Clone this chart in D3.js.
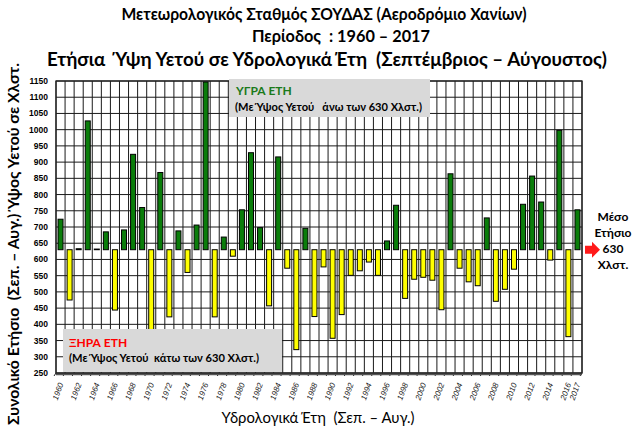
<!DOCTYPE html>
<html><head><meta charset="utf-8">
<script src="https://cdn.jsdelivr.net/npm/d3@7"></script>
<style>
html,body{margin:0;padding:0;background:#fff;}
svg{display:block;}
text{white-space:pre;}
</style></head>
<body>
<svg id="c" width="641" height="430"></svg>
<script>
const years = d3.range(1960, 2018);
const rainfall = [724,475,633,1027,632,685,444,691,924,760,380,868,423,688,560,706,1147,423,669,610,
  753,929,698,457,916,573,322,696,424,577,357,430,551,565,592,551,657,767,480,539,
  545,536,445,864,573,531,519,728,471,508,570,770,857,777,598,998,362,753];
const baseline = 630;
const yTicks = d3.range(250, 1151, 50);
const xTickLabels = ["1960","1962","1964","1966","1968","1970","1972","1974","1976","1978","1980","1982","1984","1986","1988","1990","1992","1994","1996","1998","2000","2002","2004","2006","2008","2010","2012","2014","2016","2017"];

const svg = d3.select("#c");
const L = 56, R = 582, T = 81, B = 373;
const x = d3.scaleBand().domain(years.map(String)).range([L, R]).paddingInner(0).paddingOuter(0);
const y = d3.scaleLinear().domain([250, 1150]).range([B, T]);
const font = "Lato, 'Noto Sans', sans-serif";

// titles
svg.append("text").attr("x", 324).attr("y", 20).attr("text-anchor","middle")
  .attr("font-family", font).attr("font-weight","bold").attr("font-size",17)
  .attr("textLength",405).attr("lengthAdjust","spacingAndGlyphs")
  .text("Μετεωρολογικός Σταθμός ΣΟΥΔΑΣ (Αεροδρόμιο Χανίων)");
svg.append("text").attr("x", 341).attr("y", 42).attr("text-anchor","middle")
  .attr("font-family", font).attr("font-weight","bold").attr("font-size",17)
  .attr("textLength",178).attr("lengthAdjust","spacingAndGlyphs")
  .text("Περίοδος  : 1960 – 2017");
svg.append("text").attr("x", 327).attr("y", 66).attr("text-anchor","middle")
  .attr("font-family", font).attr("font-weight","bold").attr("font-size",19)
  .attr("textLength",560).attr("lengthAdjust","spacingAndGlyphs")
  .text("Ετήσια  Ύψη Υετού σε Υδρολογικά Έτη  (Σεπτέμβριος – Αύγουστος)");

// grid
const g = svg.append("g");
g.selectAll("line.h").data(yTicks).join("line")
  .attr("x1", L).attr("x2", R).attr("y1", d=>y(d)).attr("y2", d=>y(d))
  .attr("stroke","#1a1a1a").attr("stroke-width",1);
const bounds = years.map(d=>x(String(d))).concat([R]);
g.selectAll("line.v").data(bounds).join("line")
  .attr("x1", d=>d).attr("x2", d=>d).attr("y1", T).attr("y2", B)
  .attr("stroke","#1a1a1a").attr("stroke-width",1);
// floor ticks
g.selectAll("line.t").data(bounds).join("line")
  .attr("x1", d=>d).attr("x2", d=>d-2).attr("y1", B).attr("y2", B+3)
  .attr("stroke","#222").attr("stroke-width",1);
g.append("line").attr("x1",L).attr("x2",R).attr("y1",B+1).attr("y2",B+1).attr("stroke","#555").attr("stroke-width",2.5);
g.append("rect").attr("x",L).attr("y",T).attr("width",R-L).attr("height",B-T)
  .attr("fill","none").attr("stroke","#222").attr("stroke-width",1.3);

// bars
const bw = 5;
svg.append("g").selectAll("rect").data(years.map((yr,i)=>({yr, v: rainfall[i]}))).join("rect")
  .attr("x", d => x(String(d.yr)) + x.bandwidth()/2 - bw/2)
  .attr("y", d => Math.min(y(d.v), y(baseline)))
  .attr("width", bw)
  .attr("height", d => Math.abs(y(d.v) - y(baseline)))
  .attr("fill", d => d.v >= baseline ? "#0a7d0a" : "#ffff00")
  .attr("stroke", "#000").attr("stroke-width", 1);

// y axis labels
svg.append("g").selectAll("text").data(yTicks).join("text")
  .attr("x", 48).attr("y", d=>y(d)+3).attr("text-anchor","end")
  .attr("font-family","'Liberation Sans', Arial, sans-serif").attr("font-weight","bold")
  .attr("font-size",8.5).text(d=>d);

// x axis labels
svg.append("g").selectAll("text").data(xTickLabels).join("text")
  .attr("transform", d => `translate(${x(d)+x.bandwidth()/2+3},384) rotate(-70)`)
  .attr("text-anchor","end")
  .attr("font-family","'Liberation Sans', Arial, sans-serif").attr("font-style","italic")
  .attr("font-size",8).attr("fill","#222").text(d=>d);

// axis titles
svg.append("text").attr("transform","translate(19,244) rotate(-90)").attr("text-anchor","middle")
  .attr("font-family", font).attr("font-weight","bold").attr("font-size",15.5)
  .attr("textLength",362).attr("lengthAdjust","spacingAndGlyphs")
  .text("Συνολικό Ετήσιο  (Σεπ. – Αυγ.) Ύψος Υετού σε Χλστ.");
svg.append("text").attr("x", 318).attr("y", 423).attr("text-anchor","middle")
  .attr("font-family", font).attr("font-size",15)
  .attr("textLength",193).attr("lengthAdjust","spacingAndGlyphs")
  .text("Υδρολογικά Έτη  (Σεπ. – Αυγ.)");

// legend boxes
svg.append("rect").attr("x",229).attr("y",79).attr("width",201).attr("height",38).attr("fill","#d9d9d9");
svg.append("text").attr("x",236).attr("y",95).attr("font-family",font).attr("font-weight","bold")
  .attr("font-size",12).attr("fill","#1b7a1b").text("ΥΓΡΑ ΕΤΗ");
svg.append("text").attr("x",235).attr("y",111).attr("font-family",font).attr("font-weight","bold")
  .attr("font-size",11.5).attr("textLength",187).attr("lengthAdjust","spacingAndGlyphs")
  .text("(Με Ύψος Υετού   άνω των 630 Χλστ.)");
svg.append("rect").attr("x",63).attr("y",329).attr("width",219).attr("height",43).attr("fill","#d9d9d9");
svg.append("text").attr("x",69).attr("y",347).attr("font-family",font).attr("font-weight","bold")
  .attr("font-size",12).attr("fill","#ff0000").text("ΞΗΡΑ ΕΤΗ");
svg.append("text").attr("x",69).attr("y",362).attr("font-family",font).attr("font-weight","bold")
  .attr("font-size",11.5).attr("textLength",190).attr("lengthAdjust","spacingAndGlyphs")
  .text("(Με Ύψος Υετού  κάτω των 630 Χλστ.)");

// mean annotation
const ay = y(baseline);
svg.append("path").attr("d", `M585,${ay-4} L592,${ay-4} L592,${ay-8} L600,${ay} L592,${ay+8} L592,${ay+4} L585,${ay+4} Z`).attr("fill","#ff1a1a");
const ann = ["Μέσο","Ετήσιο","630","Χλστ."];
svg.append("g").selectAll("text").data(ann).join("text")
  .attr("x",613).attr("y",(d,i)=>221+i*16).attr("text-anchor","middle")
  .attr("font-family",font).attr("font-weight","bold").attr("font-size",12).text(d=>d);
</script>
</body></html>
